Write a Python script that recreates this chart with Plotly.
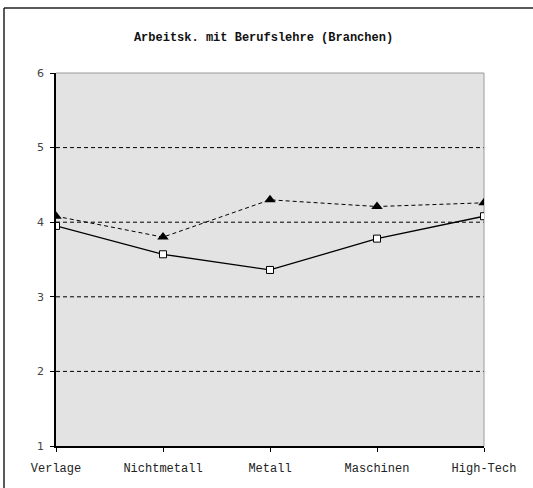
import plotly.graph_objects as go

categories = ["Verlage", "Nichtmetall", "Metall", "Maschinen", "High-Tech"]
series_squares = [3.95, 3.57, 3.36, 3.78, 4.08]
series_triangles = [4.08, 3.80, 4.30, 4.21, 4.26]
y_ticks = [1, 2, 3, 4, 5, 6]
title_text = "Arbeitsk. mit Berufslehre (Branchen)"

FONT = "Liberation Mono, Courier New, monospace"
W, H = 533, 488
L, R, T, B = 56, 49, 73, 42
pw, ph = W - L - R, H - T - B

fig = go.Figure()
fig.add_trace(go.Scatter(
    x=categories, y=series_triangles, mode="lines+markers",
    line=dict(color="black", width=1, dash="4px,3px"),
    marker=dict(symbol="triangle-up", size=10, color="black"),
    showlegend=False))
fig.add_trace(go.Scatter(
    x=categories, y=series_squares, mode="lines+markers",
    line=dict(color="black", width=1.3),
    marker=dict(symbol="square", size=7, color="white", line=dict(color="black", width=1)),
    showlegend=False))

# horizontal dashed grid lines
for v in y_ticks[1:-1]:
    fig.add_shape(type="line", xref="paper", x0=0, x1=1, yref="y", y0=v, y1=v,
                  line=dict(color="black", width=1, dash="4px,3px"), layer="below")
# top and right gray border
fig.add_shape(type="line", xref="paper", x0=0, x1=1, yref="paper", y0=1, y1=1,
              line=dict(color="#9a9a9a", width=1), layer="below")
fig.add_shape(type="line", xref="paper", x0=1, x1=1, yref="paper", y0=0, y1=1,
              line=dict(color="#9a9a9a", width=1), layer="below")
# outer frame (left and top edges visible)
fx = (4 - L) / pw
fy = (H - B - 8) / ph
fig.add_shape(type="line", xref="paper", yref="paper", x0=fx, x1=fx, y0=-0.5, y1=fy,
              line=dict(color="#222222", width=1.5))
fig.add_shape(type="line", xref="paper", yref="paper", x0=fx, x1=1.5, y0=fy, y1=fy,
              line=dict(color="#222222", width=1.5))

fig.update_layout(
    width=W, height=H,
    margin=dict(l=L, r=R, t=T, b=B),
    paper_bgcolor="white", plot_bgcolor="#e3e3e3",
    font=dict(family=FONT, size=12, color="#222222"),
    title=dict(text="<b>" + title_text + "</b>", x=263.5 / W, xref="container", xanchor="center",
               y=1 - 37 / H, yref="container", yanchor="middle",
               font=dict(family=FONT, size=12, color="#111111")),
    xaxis=dict(type="category", range=[0, 4], showgrid=False, zeroline=False,
               showline=True, linecolor="black", linewidth=1.5,
               ticks="outside", ticklen=4, tickcolor="black", tickwidth=1,
               ticklabelstandoff=6, tickfont=dict(size=12, color="#222222")),
    yaxis=dict(range=[1, 6], tickvals=y_ticks, showgrid=False, zeroline=False,
               showline=True, linecolor="black", linewidth=1.5,
               ticks="outside", ticklen=4, tickcolor="black", tickwidth=1,
               ticklabelstandoff=4,
               tickfont=dict(family="DejaVu Sans, Verdana, sans-serif", size=11, color="#444444")),
)

fig.write_html("out.html", config={"displayModeBar": False},
               post_script="document.body.style.margin='0';document.body.style.overflow='hidden';")
